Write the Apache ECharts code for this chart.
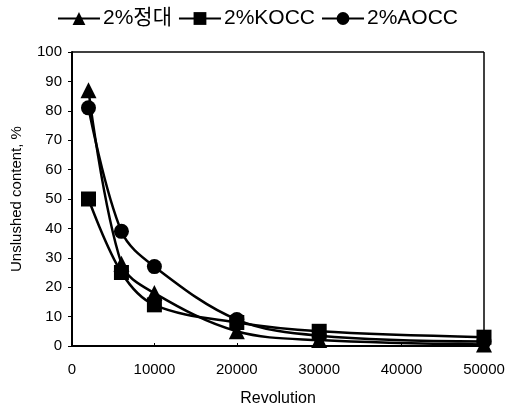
<!DOCTYPE html>
<html>
<head>
<meta charset="utf-8">
<script src="https://cdn.jsdelivr.net/npm/echarts@6/dist/echarts.min.js"></script>
<style>
html, body { margin: 0; padding: 0; background: #fff; }
#chart { width: 515px; height: 408px; }
</style>
</head>
<body>
<div id="chart"></div>
<script>
const revolutions = [2000, 6000, 10000, 20000, 30000, 50000];
const seriesNames = ['2%정대', '2%KOCC', '2%AOCC'];
const valuesJeongdae = [87, 28, 18, 5, 2, 0.5];
const valuesKocc = [50, 25, 14, 8, 5, 3];
const valuesAocc = [81, 39, 27, 9, 3.5, 1.5];

const font = 'Liberation Sans, Arial, Noto Sans CJK KR, sans-serif';

function pairs(vals) {
    return revolutions.map((x, i) => [x, vals[i]]);
}

const myChart = echarts.init(document.getElementById('chart'));
myChart.setOption({
    animation: false,
    grid: { left: 72, right: 31, top: 52, bottom: 62, outerBoundsMode: 'none' },
    legend: {
        top: 3,
        left: 'center',
        itemWidth: 42,
        itemHeight: 16,
        itemGap: 6,
        textStyle: { fontFamily: font, fontSize: 21, color: '#000', padding: [0, 0, 0, -2] },
        data: seriesNames
    },
    xAxis: {
        type: 'value',
        min: 0,
        max: 50000,
        interval: 10000,
        name: 'Revolution',
        nameLocation: 'middle',
        nameGap: 45,
        nameTextStyle: { fontFamily: font, fontSize: 16, color: '#000' },
        axisLine: { lineStyle: { color: '#000', width: 2 } },
        axisTick: { show: true, inside: true, length: 3, lineStyle: { color: '#000' } },
        axisLabel: {
            fontFamily: font, fontSize: 15, color: '#000', margin: 16,
            formatter: v => String(v)
        },
        splitLine: { show: false }
    },
    yAxis: {
        type: 'value',
        min: 0,
        max: 100,
        interval: 10,
        name: 'Unslushed content, %',
        nameLocation: 'middle',
        nameGap: 48,
        nameTextStyle: { fontFamily: font, fontSize: 15, color: '#000' },
        axisLine: { show: true, lineStyle: { color: '#000', width: 2 } },
        axisTick: { show: true, length: 4, lineStyle: { color: '#000' } },
        axisLabel: { fontFamily: font, fontSize: 15, color: '#000', margin: 10 },
        splitLine: { show: false }
    },
    series: [
        {
            name: seriesNames[0], type: 'line', smooth: 0.35,
            data: pairs(valuesJeongdae),
            symbol: 'triangle', symbolSize: 16,
            itemStyle: { color: '#000' },
            lineStyle: { color: '#000', width: 2.5 }
        },
        {
            name: seriesNames[1], type: 'line', smooth: 0.35,
            data: pairs(valuesKocc),
            symbol: 'rect', symbolSize: 15,
            itemStyle: { color: '#000' },
            lineStyle: { color: '#000', width: 2.5 }
        },
        {
            name: seriesNames[2], type: 'line', smooth: 0.35,
            data: pairs(valuesAocc),
            symbol: 'circle', symbolSize: 15,
            itemStyle: { color: '#000' },
            lineStyle: { color: '#000', width: 2.5 }
        },
        {
            // frame: top and right border
            type: 'line', silent: true, symbol: 'none',
            data: [],
            markLine: {
                silent: true, symbol: 'none', animation: false,
                lineStyle: { color: '#000', width: 1.5, type: 'solid' },
                label: { show: false },
                data: [{ yAxis: 100 }, { xAxis: 50000 }]
            }
        }
    ]
});
</script>
</body>
</html>
